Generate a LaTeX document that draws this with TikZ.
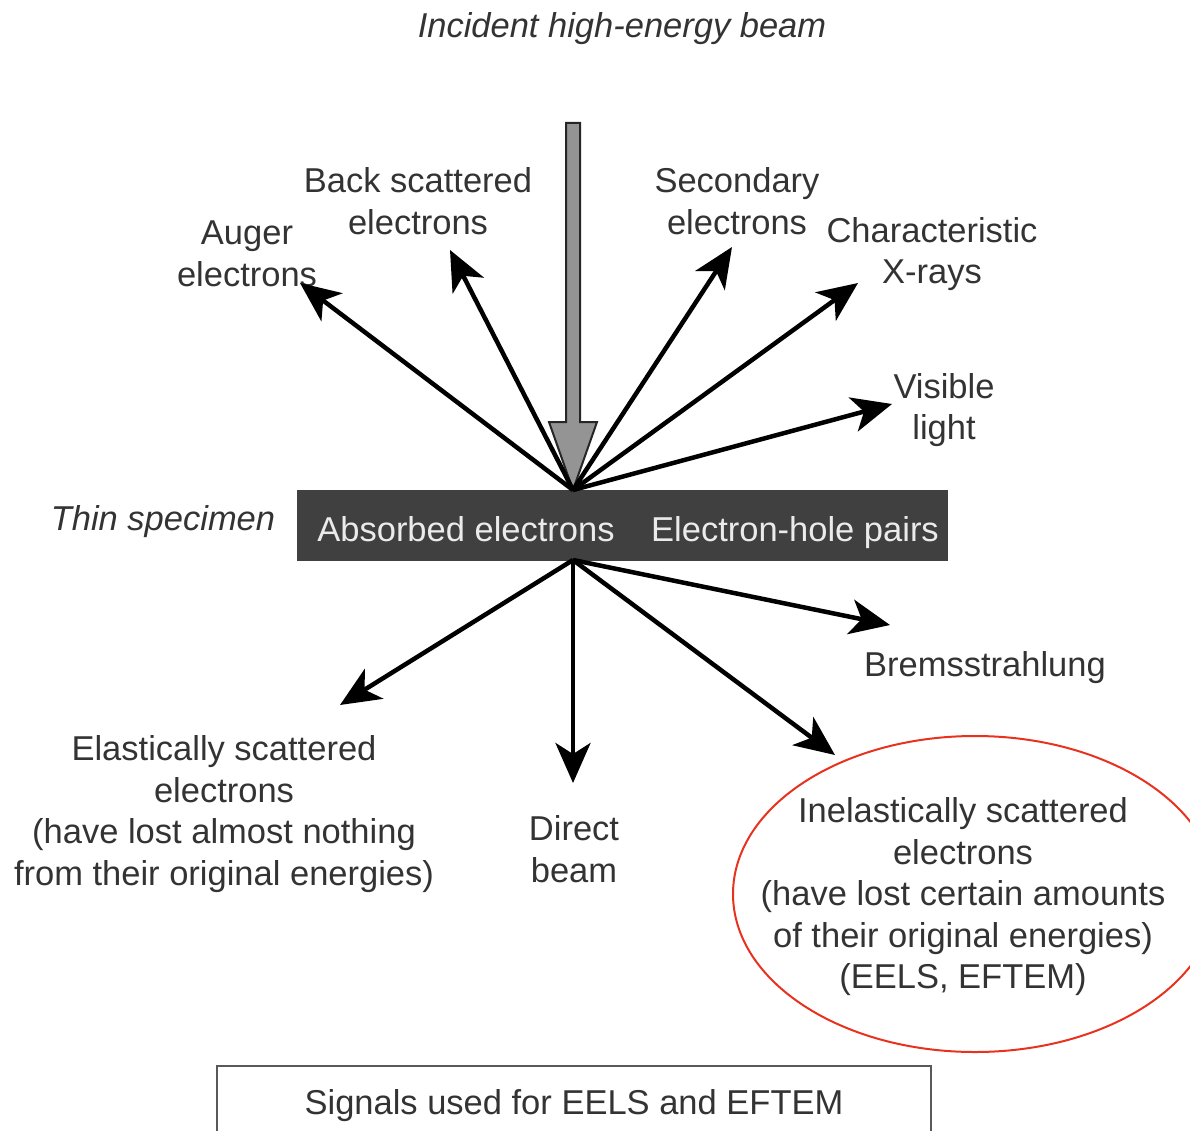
\documentclass[tikz,border=0pt]{standalone}
\usepackage{fontspec}
\setmainfont{Liberation Sans}
\usetikzlibrary{arrows.meta}
\definecolor{txt}{HTML}{333333}
\definecolor{spec}{HTML}{404040}
\definecolor{ered}{HTML}{E8321E}
\tikzset{
  lbl/.style={align=center, text=txt, inner sep=0pt, yshift=-4pt, font=\fontsize{34.5}{41.5}\selectfont},
  sig/.style={line width=4.5pt, draw=black, -{Stealth[length=40pt, width=35pt, inset=11pt]}},
}
\begin{document}
\begin{tikzpicture}[x=1pt,y=-1pt]
\useasboundingbox (0,0) rectangle (1190,1131);
\clip (0,0) rectangle (1190,1131);
% title
\node[lbl, font=\fontsize{34.5}{41.5}\selectfont\itshape] (title) at (622,25) {Incident high-energy beam};
% specimen
\node[fill=spec, draw=spec, minimum width=650pt, minimum height=70pt, inner sep=0pt] (specimen) at (622,525) {};
\node[lbl, text=white!92!black, anchor=base, yshift=4pt] (absorbed) at (466,541) {Absorbed electrons};
\node[lbl, text=white!92!black, anchor=base, yshift=4pt] (ehp) at (795,541) {Electron-hole pairs};
\node[lbl, font=\fontsize{34.5}{41.5}\selectfont\itshape] (thin) at (163,518) {Thin specimen};
\coordinate (otop) at (573,490);
\coordinate (obot) at (573,560);
% incident beam
\coordinate (beamtop) at (573,123);
\draw[line width=2pt, draw=black!85, fill=black!42, line join=miter]
  (566,123) -- (580,123) -- (580,422) -- (597,422) -- (otop) -- (549,422) -- (566,422) -- cycle;
% labels
\node[lbl] (auger) at (247,250) {Auger\\electrons};
\node[lbl] (back) at (418,197) {Back scattered\\electrons};
\node[lbl] (second) at (737,197) {Secondary\\electrons};
\node[lbl] (xray) at (932,250) {Characteristic\\X-rays};
\node[lbl] (light) at (944,406) {Visible\\light};
\node[lbl] (brems) at (985,664) {Bremsstrahlung};
\node[lbl] (elastic) at (224,810) {Elastically scattered\\electrons\\(have lost almost nothing\\from their original energies)};
\node[lbl] (direct) at (574,845) {Direct\\beam};
\node[lbl] (inelastic) at (963,893) {Inelastically scattered\\electrons\\(have lost certain amounts\\of their original energies)\\(EELS, EFTEM)};
% tips
\coordinate (tauger) at (300,283);
\coordinate (tback) at (450,250);
\coordinate (tsec) at (732,247);
\coordinate (txray) at (858,283);
\coordinate (tlight) at (892,404);
\coordinate (telastic) at (340,705);
\coordinate (tdirect) at (573,783);
\coordinate (tinel) at (835,755);
\coordinate (tbrems) at (890,625);
% arrows
\draw[sig] (otop) -- (tauger);
\draw[sig] (otop) -- (tback);
\draw[sig] (otop) -- (tsec);
\draw[sig] (otop) -- (txray);
\draw[sig] (otop) -- (tlight);
\draw[sig] (obot) -- (telastic);
\draw[sig] (obot) -- (tdirect);
\draw[sig] (obot) -- (tinel);
\draw[sig] (obot) -- (tbrems);
% ellipse
\draw[ered, line width=2pt] (975,894) ellipse [x radius=242, y radius=158];
% bottom box
\draw[line width=2pt, draw=black!65] (217,1180) -- (217,1066) -- (931,1066) -- (931,1180);
\node[lbl] (signals) at (574,1102) {Signals used for EELS and EFTEM};
\end{tikzpicture}
\end{document}
